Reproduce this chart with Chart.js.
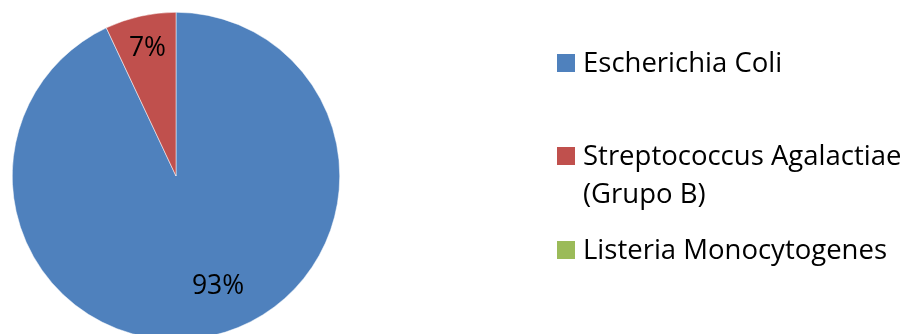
<!DOCTYPE html>
<html>
<head>
<meta charset="utf-8">
<script src="https://cdn.jsdelivr.net/npm/chart.js@4/dist/chart.umd.min.js"></script>
<style>
  html, body { margin: 0; padding: 0; background: #fff; overflow: hidden; }
  #wrap { position: relative; width: 915px; height: 360px; }
</style>
</head>
<body>
<div id="wrap"><canvas id="pie" width="915" height="360"></canvas></div>
<script>
// Chart data
var bacterias = ["Escherichia Coli", ["Streptococcus Agalactiae", "(Grupo B)"], "Listeria Monocytogenes"];
var porcentajes = [93, 7, 0];
var colores = ["#4F81BD", "#C0504D", "#9BBB59"];

var FONT = "'Open Sans', Lato, sans-serif";

// Percent labels inside the slices (radius fraction and angle nudge per slice)
var etiquetas = {
  id: "etiquetas",
  afterDatasetsDraw: function (chart) {
    var ctx = chart.ctx;
    var meta = chart.getDatasetMeta(0);
    var total = porcentajes.reduce(function (a, b) { return a + b; }, 0);
    var fracs = [0.72, 0.8, 0.75];
    var nudge = [-8.3, 0, 0];
    ctx.save();
    ctx.font = "26.5px " + FONT;
    ctx.fillStyle = "#000";
    ctx.textAlign = "center";
    ctx.textBaseline = "middle";
    meta.data.forEach(function (arc, i) {
      var v = porcentajes[i];
      if (!v) return;
      var p = arc.getProps(["x", "y", "startAngle", "endAngle", "outerRadius"], true);
      var mid = (p.startAngle + p.endAngle) / 2 + nudge[i] * Math.PI / 180;
      var r = p.outerRadius * fracs[i];
      ctx.fillText(Math.round(v / total * 100) + "%", p.x + Math.cos(mid) * r, p.y + Math.sin(mid) * r);
    });
    ctx.restore();
  }
};

// Legend on the right side
var leyenda = {
  id: "leyenda",
  afterDraw: function (chart) {
    var ctx = chart.ctx;
    var filas = [72, 165, 259];
    ctx.save();
    ctx.font = "27.5px " + FONT;
    ctx.textBaseline = "alphabetic";
    bacterias.forEach(function (label, i) {
      var y = filas[i];
      ctx.fillStyle = colores[i];
      ctx.fillRect(557, y - 18, 18, 18);
      ctx.fillStyle = "#000";
      var lineas = Array.isArray(label) ? label : [label];
      lineas.forEach(function (t, j) {
        ctx.fillText(t, 583, y + j * 38);
      });
    });
    ctx.restore();
  }
};

var ctx = document.getElementById("pie").getContext("2d");
var pieChart = new Chart(ctx, {
  type: "pie",
  data: {
    labels: bacterias,
    datasets: [
      {
        data: porcentajes,
        backgroundColor: colores,
        borderColor: "#fff",
        borderWidth: 0.5,
      },
    ],
  },
  options: {
    responsive: false,
    animation: false,
    devicePixelRatio: 1,
    layout: {
      padding: { left: 12, top: 12, right: 575, bottom: 20 },
    },
    plugins: {
      legend: { display: false },
      tooltip: { enabled: false },
    },
  },
  plugins: [etiquetas, leyenda],
});
</script>
</body>
</html>
